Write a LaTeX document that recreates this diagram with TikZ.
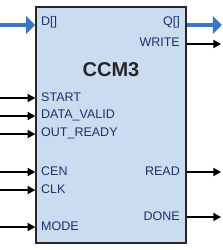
\documentclass[tikz,border=0pt]{standalone}
\usepackage{fontspec}
\setmainfont{Liberation Sans}
\usetikzlibrary{arrows.meta}
\definecolor{blockFill}{RGB}{204, 220, 240}
\definecolor{pinText}{RGB}{28, 48, 110}
\definecolor{busBlue}{RGB}{58, 118, 200}

\begin{document}
\begin{tikzpicture}[x=1pt, y=-1pt,
    pinlabel/.style={text=pinText, font=\fontsize{12.5}{12.5}\selectfont, inner sep=0pt},
    sigarrow/.style={line width=1.3pt, -{Triangle[length=7.5pt, width=8pt]}},
    busarrow/.style={busBlue, line width=3.6pt, -{Triangle[length=9pt, width=17pt]}}]
      \useasboundingbox (0,0) rectangle (223,250);

      % block
      \node[draw=black!85, line width=1.5pt, fill=blockFill, minimum width=150pt,
            minimum height=236pt, inner sep=0pt] (ccm) at (111,125) {};
      \node[text=black!85, font=\fontsize{20}{20}\selectfont\bfseries] (title) at (111,70) {CCM3};

      % left pins
      \node[pinlabel, anchor=west] (d)    at (41,22)  {D[]};
      \node[pinlabel, anchor=west] (start) at (41,97) {START};
      \node[pinlabel, anchor=west] (dval) at (41,115) {DATA\_VALID};
      \node[pinlabel, anchor=west] (ordy) at (41,133) {OUT\_READY};
      \node[pinlabel, anchor=west] (cen)  at (41,171) {CEN};
      \node[pinlabel, anchor=west] (clk)  at (41,189) {CLK};
      \node[pinlabel, anchor=west] (mode) at (41,226) {MODE};

      % right pins
      \node[pinlabel, anchor=east] (q)     at (180,22)  {Q[]};
      \node[pinlabel, anchor=east] (write) at (180,42)  {WRITE};
      \node[pinlabel, anchor=east] (read)  at (180,171) {READ};
      \node[pinlabel, anchor=east] (done)  at (180,216) {DONE};

      % wire ends
      \coordinate (dIn) at (0,25);
      \coordinate (qOut) at (222,25);
      \foreach \n/\y in {startIn/98, dvalIn/116, ordyIn/134, cenIn/172, clkIn/190, modeIn/227}
        \coordinate (\n) at (0,\y);
      \foreach \n/\y in {writeOut/44, readOut/172, doneOut/217}
        \coordinate (\n) at (221,\y);

      \draw[busarrow] (dIn) -- (dIn -| ccm.west);
      \draw[busarrow] (qOut -| ccm.east) -- (qOut);
      \foreach \n in {startIn, dvalIn, ordyIn, cenIn, clkIn, modeIn}
        \draw[sigarrow] (\n) -- (\n -| ccm.west);
      \foreach \n in {writeOut, readOut, doneOut}
        \draw[sigarrow] (\n -| ccm.east) -- (\n);
\end{tikzpicture}
\end{document}
